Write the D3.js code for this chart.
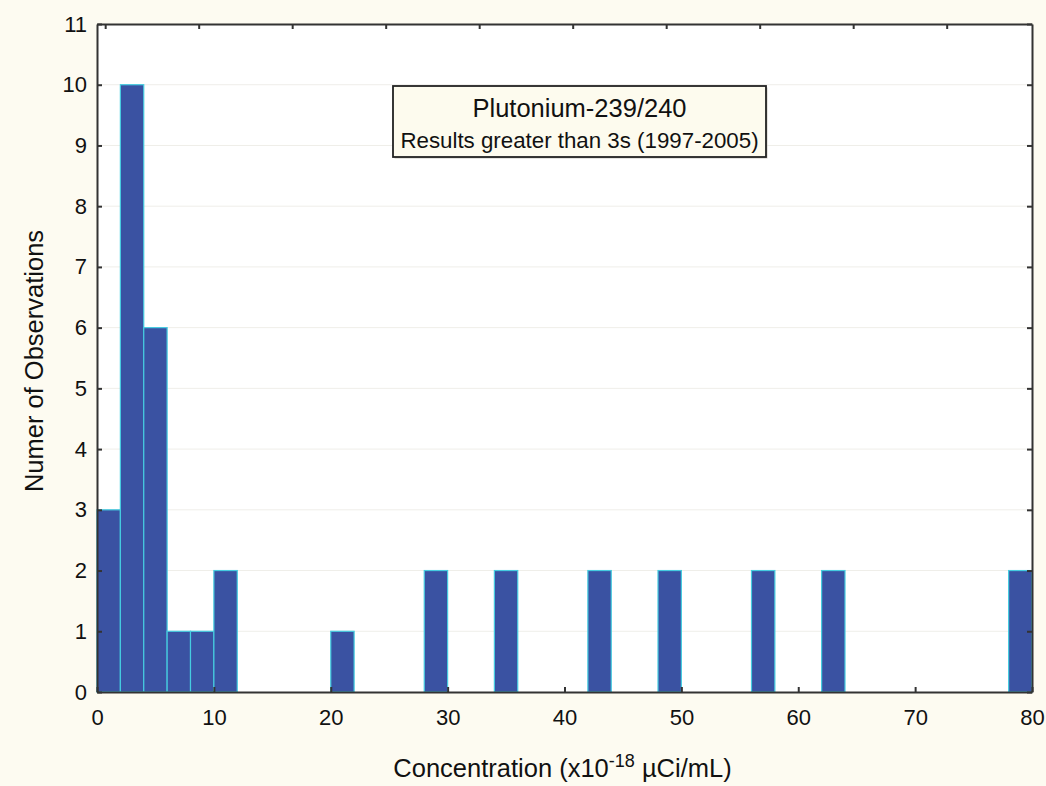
<!DOCTYPE html>
<html>
<head>
<meta charset="utf-8">
<script src="https://cdn.jsdelivr.net/npm/d3@7"></script>
<style>
  body { margin: 0; background: #fdfbf1; }
  svg { display: block; font-family: "Liberation Sans", Arial, sans-serif; }
</style>
</head>
<body>
<div id="chart"></div>
<script>
// Histogram bins (2 units wide) and their counts
const binStarts = [0, 2, 4, 6, 8, 10, 20, 28, 34, 42, 48, 56, 62, 78];
const binCounts = [3, 10, 6, 1, 1, 2, 1, 2, 2, 2, 2, 2, 2, 2];
const binWidth = 2;
const xTicks = [0, 10, 20, 30, 40, 50, 60, 70, 80];
const yTicks = [0, 1, 2, 3, 4, 5, 6, 7, 8, 9, 10, 11];
const topTicks = [0.7, 8.7, 16.7, 24.7, 32.7, 40.7, 48.7, 56.7, 64.7, 72.7];
const titleLines = ["Plutonium-239/240", "Results greater than 3s (1997-2005)"];

const width = 1046, height = 786;
const margin = { top: 24, right: 14, bottom: 94, left: 97 };
const innerW = width - margin.left - margin.right;
const innerH = height - margin.top - margin.bottom;

const svg = d3.select("#chart").append("svg")
  .attr("width", width)
  .attr("height", height);

svg.append("rect").attr("width", width).attr("height", height).attr("fill", "#fdfbf1");

const chart = svg.append("g")
  .attr("transform", `translate(${margin.left},${margin.top})`);

const x = d3.scaleLinear().domain([0, 80]).range([0, innerW]);
const y = d3.scaleLinear().domain([0, 11]).range([innerH, 0]);

// plot area
chart.append("rect")
  .attr("width", innerW).attr("height", innerH)
  .attr("fill", "#ffffff");

// faint horizontal grid
chart.append("g")
  .selectAll("line")
  .data(yTicks.slice(1, -1))
  .join("line")
  .attr("x1", 0).attr("x2", innerW)
  .attr("y1", d => y(d)).attr("y2", d => y(d))
  .attr("stroke", "#efeee9")
  .attr("stroke-width", 1);

// bars
const bins = binStarts.map((s, i) => ({ x0: s, x1: s + binWidth, n: binCounts[i] }));
chart.append("g")
  .selectAll("rect")
  .data(bins)
  .join("rect")
  .attr("x", d => x(d.x0))
  .attr("y", d => y(d.n))
  .attr("width", d => x(d.x1) - x(d.x0))
  .attr("height", d => y(0) - y(d.n))
  .attr("fill", "#3a52a2")
  .attr("stroke", "#45cce0")
  .attr("stroke-width", 1.2);

// axes (ticks point inward)
const axisColor = "#333";
const xAxis = chart.append("g")
  .attr("transform", `translate(0,${innerH})`)
  .call(d3.axisBottom(x).tickValues(xTicks).tickSize(-5).tickPadding(17).tickSizeOuter(0));
const yAxis = chart.append("g")
  .call(d3.axisLeft(y).tickValues(yTicks).tickSize(-5).tickPadding(10).tickSizeOuter(0));
const topAxis = chart.append("g")
  .call(d3.axisTop(x).tickValues(topTicks).tickSize(-5).tickFormat("").tickSizeOuter(0));
const rightAxis = chart.append("g")
  .attr("transform", `translate(${innerW},0)`)
  .call(d3.axisRight(y).tickValues(yTicks).tickSize(-5).tickFormat("").tickSizeOuter(0));

[xAxis, yAxis, topAxis, rightAxis].forEach(a => {
  a.attr("font-size", 22).attr("font-family", null);
  a.select(".domain").attr("stroke", axisColor).attr("stroke-width", 2);
  a.selectAll(".tick line").attr("stroke", axisColor).attr("stroke-width", 2);
  a.selectAll(".tick text").attr("fill", "#111").attr("font-size", 22);
});

// axis titles
svg.append("text")
  .attr("x", margin.left + innerW / 2 - 2)
  .attr("y", 777)
  .attr("text-anchor", "middle")
  .attr("fill", "#111")
  .attr("font-size", 25.5)
  .call(t => {
    t.append("tspan").text("Concentration (x10");
    t.append("tspan").attr("dy", -10).attr("font-size", 18).text("-18");
    t.append("tspan").attr("dy", 10).text(" \u00b5Ci/mL)");
  });

svg.append("text")
  .attr("transform", `translate(43,${margin.top + innerH / 2 + 3}) rotate(-90)`)
  .attr("text-anchor", "middle")
  .attr("fill", "#111")
  .attr("font-size", 25.5)
  .text("Numer of Observations");

// title box
const box = { x: 393, y: 86, w: 373, h: 71 };
svg.append("rect")
  .attr("x", box.x + 1.5).attr("y", box.y + 1.5)
  .attr("width", box.w).attr("height", box.h)
  .attr("fill", "#c9c8c0");
svg.append("rect")
  .attr("x", box.x).attr("y", box.y)
  .attr("width", box.w).attr("height", box.h)
  .attr("fill", "#fdfbee")
  .attr("stroke", "#222")
  .attr("stroke-width", 1.8);
svg.append("text")
  .attr("x", box.x + box.w / 2).attr("y", box.y + 31)
  .attr("text-anchor", "middle").attr("fill", "#111")
  .attr("font-size", 25.5)
  .text(titleLines[0]);
svg.append("text")
  .attr("x", box.x + box.w / 2).attr("y", box.y + 62)
  .attr("text-anchor", "middle").attr("fill", "#111")
  .attr("font-size", 22.3)
  .text(titleLines[1]);
</script>
</body>
</html>
